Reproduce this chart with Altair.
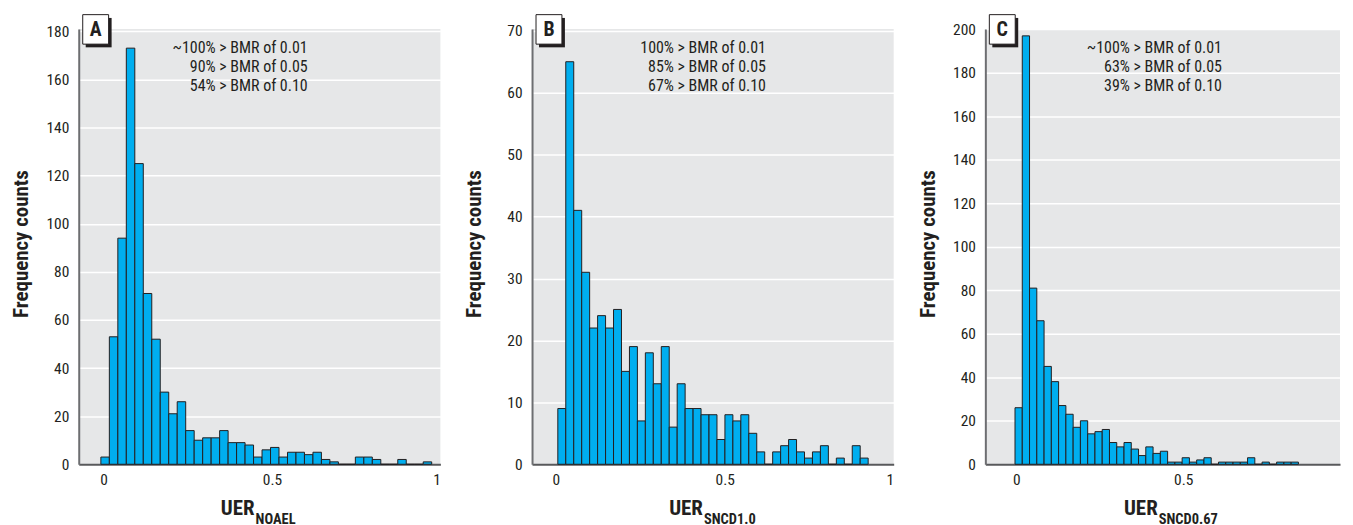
import altair as alt
import pandas as pd

# ---- data (frequency counts per histogram bin) ----
counts_a = [3, 53, 94, 173, 125, 71, 52, 30, 21, 26, 14, 10, 11, 11, 14, 9, 9, 8, 3, 6,
            7, 3, 5, 5, 4, 5, 2, 1, 0, 0, 3, 3, 2, 0, 0, 2, 0, 0, 1]
counts_b = [9, 65, 41, 31, 22, 24, 22, 25, 15, 19, 7, 18, 13, 19, 6, 13, 9, 9, 8, 8,
            4, 8, 7, 8, 5, 2, 0, 2, 3, 4, 2, 1, 2, 3, 0, 1, 0, 3, 1]
counts_c = [26, 197, 81, 66, 45, 38, 27, 23, 17, 20, 14, 15, 16, 10, 8, 10, 7, 4, 8, 5,
            6, 1, 1, 3, 1, 2, 3, 0, 1, 1, 1, 1, 3, 0, 1, 0, 1, 1, 1]

# histogram bin layout (first bin start, bin width)
bins_a = (-0.0078, 0.02518)
bins_b = (0.0060, 0.02355)
bins_c = (-0.0041, 0.02178)

notes_a = ["~100% > BMR of 0.01", "90% > BMR of 0.05", "54% > BMR of 0.10"]
notes_b = ["100% > BMR of 0.01", "85% > BMR of 0.05", "67% > BMR of 0.10"]
notes_c = ["~100% > BMR of 0.01", "63% > BMR of 0.05", "39% > BMR of 0.10"]

yticks_a = [0, 20, 40, 60, 80, 100, 120, 140, 160, 180]
yticks_b = [0, 10, 20, 30, 40, 50, 60, 70]
yticks_c = [0, 20, 40, 60, 80, 100, 120, 140, 160, 180, 200]
xticks_ab = [0, 0.5, 1]
xticks_c = [0, 0.5]

FONT = "Roboto Condensed, DejaVu Sans Condensed, sans-serif"
INK = "#231F20"
BAR = "#00AEEF"
BG = "#E6E7E8"
H = 437


def panel(counts, bins, xdom, ydom, yticks, xticks, letter, notes, note_x, sub, uer_x, w):
    start, width = bins
    df = pd.DataFrame({
        "x0": [start + i * width for i in range(len(counts))],
        "x1": [start + (i + 1) * width for i in range(len(counts))],
        "n": counts,
    })
    bars = alt.Chart(df).mark_rect(fill=BAR, stroke=INK, strokeWidth=1).encode(
        x=alt.X("x0:Q", scale=alt.Scale(domain=xdom, nice=False, zero=False),
                axis=alt.Axis(values=xticks, format="~g", title=None, grid=False,
                              ticks=False, labelPadding=8, labelFont=FONT,
                              labelFontSize=15.5, labelColor=INK, domainColor="#58595B",
                              domainWidth=2)),
        x2="x1:Q",
        y=alt.Y("n:Q", scale=alt.Scale(domain=ydom, nice=False, zero=True),
                axis=alt.Axis(values=yticks, title="Frequency counts", grid=True,
                              gridColor="white", gridWidth=1.5, ticks=False,
                              labelPadding=10, labelFont=FONT, labelFontSize=15.5,
                              labelColor=INK, domainColor="#6D6E71", domainWidth=2,
                              titleFont=FONT, titleFontSize=21, titleFontWeight="bold",
                              titleColor=INK, titleAngle=270, titleX=-57.5,
                              titleY=H / 2 - 3, titleAlign="center",
                              titleBaseline="middle")),
        y2=alt.datum(0),
    )
    one = pd.DataFrame({"t": ["\n".join(notes)]})
    note = alt.Chart(one).mark_text(
        align="right", baseline="alphabetic", font=FONT, fontSize=16, color=INK,
        lineBreak="\n", lineHeight=19.5,
    ).encode(text="t:N", x=alt.value(note_x), y=alt.value(23.7))

    lab = pd.DataFrame({"t": [letter]})
    shadow = alt.Chart(lab).mark_rect(fill="#231F20").encode(
        x=alt.value(7), x2=alt.value(33), y=alt.value(-11), y2=alt.value(18.5))
    box = alt.Chart(lab).mark_rect(fill="white", stroke=INK, strokeWidth=1).encode(
        x=alt.value(4), x2=alt.value(30), y=alt.value(-14.3), y2=alt.value(15.3))
    ltxt = alt.Chart(lab).mark_text(
        align="center", baseline="middle", font=FONT, fontSize=20, fontWeight="bold",
        color=INK).encode(text="t:N", x=alt.value(17), y=alt.value(1))

    ttl = pd.DataFrame({"t": ["UER"], "s": [sub]})
    uer = alt.Chart(ttl).mark_text(
        align="right", baseline="alphabetic", font=FONT, fontSize=21, fontWeight="bold",
        color=INK).encode(text="t:N", x=alt.value(uer_x), y=alt.value(488))
    subt = alt.Chart(ttl).mark_text(
        align="left", baseline="alphabetic", font=FONT, fontSize=14.5, fontWeight="bold",
        color=INK).encode(text="s:N", x=alt.value(uer_x + 1), y=alt.value(496.5))

    return alt.layer(bars, note, shadow, box, ltxt, uer, subt).properties(width=w, height=H)


pa = panel(counts_a, bins_a, [-0.0735, 1.0], [0, 181], yticks_a, xticks_ab, "A",
           notes_a, 229.8, "NOAEL", 176.5, 363)
pb = panel(counts_b, bins_b, [-0.0703, 1.0], [0, 70.3], yticks_b, xticks_ab, "B",
           notes_b, 234.8, "SNCD1.0", 171.5, 363)
pc = panel(counts_c, bins_c, [-0.093, 0.97], [0, 200.2], yticks_c, xticks_c, "C",
           notes_c, 237.5, "SNCD0.67", 173, 356)

chart = alt.hconcat(pa, pb, pc, spacing=92, bounds="flush").properties(
    padding={"left": 2, "top": 5, "right": 5, "bottom": 5}
).configure_view(fill=BG, strokeWidth=0)

chart.save("out.html", embed_options={"renderer": "svg", "actions": False})
